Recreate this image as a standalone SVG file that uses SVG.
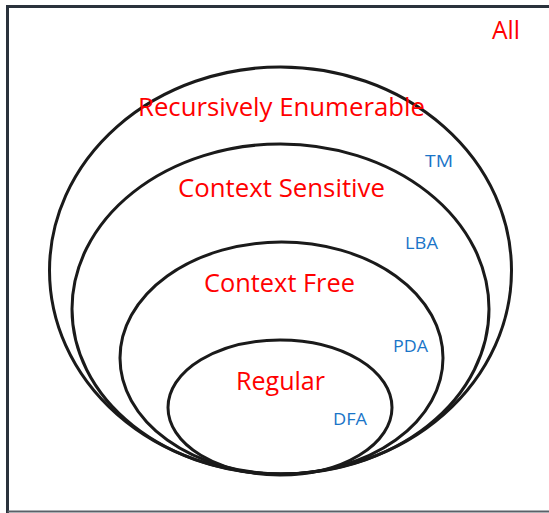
<svg xmlns="http://www.w3.org/2000/svg" width="549" height="513" viewBox="0 0 549 513">
<style>
.set{fill:none;stroke:#1a1a1a;stroke-width:3}
.cls{font-family:"Open Sans","Liberation Sans",Arial,sans-serif;fill:#ff0000;font-size:26px}
.mach{font-family:"Open Sans","Liberation Sans",Arial,sans-serif;fill:#1a75c8;font-size:16.5px}
</style>
<rect width="549" height="513" fill="#ffffff"/>
<g id="all">
<path d="M7.5,513 V6.5 H549" fill="none" stroke="#2a323c" stroke-width="3"/>
<path d="M7.5,511.5 H549" fill="none" stroke="#5a6068" stroke-width="2"/>
<text class="cls" x="492" y="39" font-size="24" textLength="28" lengthAdjust="spacingAndGlyphs">All</text>
</g>
<g id="recursively-enumerable">
<ellipse class="set" cx="280.5" cy="270.5" rx="231" ry="203.5"/>
<text class="cls" x="138" y="116" textLength="287" lengthAdjust="spacingAndGlyphs">Recursively Enumerable</text>
<text class="mach" x="425" y="167" textLength="28" lengthAdjust="spacingAndGlyphs">TM</text>
</g>
<g id="context-sensitive">
<ellipse class="set" cx="280.5" cy="309" rx="208.5" ry="165"/>
<text class="cls" x="178" y="197" textLength="207" lengthAdjust="spacingAndGlyphs">Context Sensitive</text>
<text class="mach" x="405" y="249" textLength="33" lengthAdjust="spacingAndGlyphs">LBA</text>
</g>
<g id="context-free">
<ellipse class="set" cx="281.5" cy="358" rx="161.5" ry="116"/>
<text class="cls" x="204" y="292" textLength="151" lengthAdjust="spacingAndGlyphs">Context Free</text>
<text class="mach" x="393" y="352" textLength="35" lengthAdjust="spacingAndGlyphs">PDA</text>
</g>
<g id="regular">
<ellipse class="set" cx="280" cy="407.5" rx="112" ry="67.5"/>
<text class="cls" x="236" y="390" textLength="89" lengthAdjust="spacingAndGlyphs">Regular</text>
<text class="mach" x="333" y="425" textLength="34" lengthAdjust="spacingAndGlyphs">DFA</text>
</g>
<g id="connectors"/>
</svg>
